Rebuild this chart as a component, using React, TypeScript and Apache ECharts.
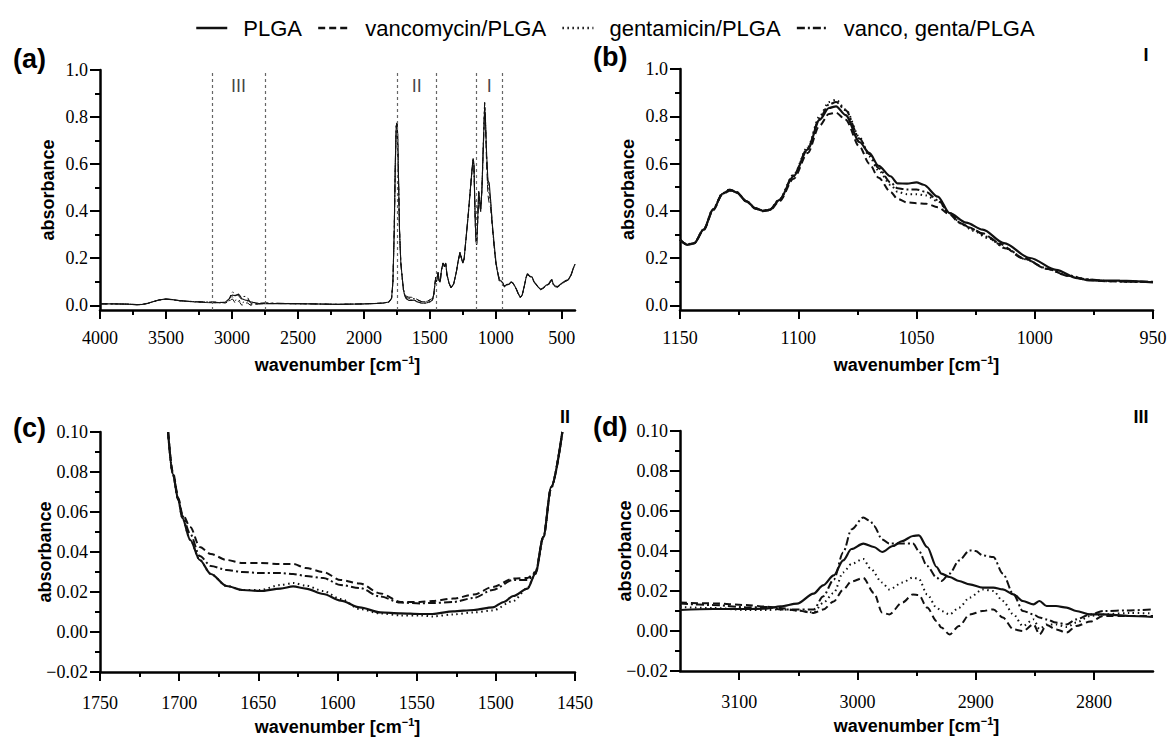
import React, { useEffect, useRef } from "react";
import * as echarts from "echarts";

const SERIES_NAMES = ["PLGA", "vancomycin/PLGA", "gentamicin/PLGA", "vanco, genta/PLGA"];

// ---------- (a) full spectrum, shared wavenumber grid ----------
const WAVE_A = [
  4000, 3900, 3800, 3720, 3680, 3640, 3600, 3550, 3500, 3450,
  3400, 3300, 3200, 3150, 3100, 3050, 3020, 3005, 2995, 2985,
  2975, 2960, 2950, 2940, 2925, 2910, 2895, 2880, 2860, 2840,
  2800, 2750, 2600, 2400, 2200, 2000, 1900, 1850, 1810, 1790,
  1780, 1770, 1762, 1755, 1750, 1745, 1738, 1730, 1720, 1710,
  1700, 1690, 1680, 1660, 1640, 1620, 1600, 1560, 1520, 1490,
  1480, 1470, 1462, 1455, 1450, 1444, 1438, 1430, 1422, 1412,
  1400, 1390, 1380, 1370, 1355, 1340, 1320, 1300, 1285, 1272,
  1260, 1250, 1240, 1225, 1210, 1195, 1180, 1172, 1166, 1160,
  1155, 1150, 1146, 1140, 1130, 1122, 1115, 1105, 1095, 1085,
  1080, 1070, 1060, 1050, 1040, 1025, 1010, 1000, 990, 975,
  960, 950, 935, 920, 900, 885, 870, 860, 845, 830,
  815, 800, 785, 770, 760, 745, 725, 710, 695, 680,
  660, 640, 620, 600, 585, 575, 565, 550, 530, 510,
  490, 470, 450, 430, 415, 400,
];
const PLGA_A = [
  0.006, 0.006, 0.005, 0.003, 0.004, 0.008, 0.015, 0.023, 0.027, 0.024,
  0.02, 0.015, 0.012, 0.011, 0.011, 0.0137, 0.028, 0.041, 0.0437, 0.042,
  0.041, 0.045, 0.0478, 0.041, 0.028, 0.0245, 0.0217, 0.021, 0.015, 0.0125,
  0.0083, 0.007, 0.007, 0.006, 0.004, 0.006, 0.008, 0.01, 0.014, 0.03,
  0.1, 0.32, 0.6, 0.76, 0.775, 0.74, 0.55, 0.32, 0.18, 0.12,
  0.065, 0.04, 0.029, 0.021, 0.021, 0.022, 0.0157, 0.009, 0.0105, 0.018,
  0.022, 0.047, 0.088, 0.12, 0.1, 0.12, 0.14, 0.105, 0.098, 0.15,
  0.18, 0.165, 0.18, 0.13, 0.095, 0.075, 0.09, 0.14, 0.19, 0.225,
  0.2, 0.18, 0.2, 0.29, 0.38, 0.48, 0.58, 0.625, 0.6, 0.45,
  0.34, 0.277, 0.256, 0.32, 0.485, 0.44, 0.4, 0.5, 0.68, 0.842,
  0.805, 0.645, 0.53, 0.52, 0.45, 0.335, 0.245, 0.19, 0.15, 0.105,
  0.104, 0.097, 0.08, 0.088, 0.09, 0.1, 0.095, 0.085, 0.07, 0.05,
  0.033, 0.045, 0.08, 0.12, 0.135, 0.125, 0.12, 0.1, 0.09, 0.078,
  0.068, 0.075, 0.085, 0.09, 0.105, 0.11, 0.09, 0.082, 0.08, 0.09,
  0.098, 0.105, 0.11, 0.13, 0.155, 0.175,
];
const VANCO_A = [
  0.006, 0.006, 0.005, 0.002, 0.003, 0.008, 0.015, 0.023, 0.026, 0.024,
  0.02, 0.016, 0.014, 0.0142, 0.0134, 0.0105, 0.0148, 0.0248, 0.0265, 0.018,
  0.0085, 0.0145, 0.018, 0.0117, 0.0, 0.005, 0.01, 0.0095, 0.0, 0.003,
  0.0047, 0.0075, 0.007, 0.006, 0.004, 0.006, 0.008, 0.01, 0.014, 0.03,
  0.1, 0.31, 0.59, 0.75, 0.77, 0.735, 0.55, 0.32, 0.18, 0.12,
  0.066, 0.05, 0.039, 0.0345, 0.034, 0.032, 0.026, 0.015, 0.017, 0.0267,
  0.027, 0.048, 0.088, 0.12, 0.1, 0.12, 0.14, 0.105, 0.098, 0.15,
  0.178, 0.163, 0.178, 0.128, 0.094, 0.074, 0.089, 0.138, 0.188, 0.222,
  0.198, 0.178, 0.198, 0.287, 0.377, 0.476, 0.575, 0.618, 0.594, 0.446,
  0.338, 0.277, 0.257, 0.318, 0.48, 0.44, 0.398, 0.49, 0.665, 0.815,
  0.785, 0.6, 0.47, 0.432, 0.415, 0.32, 0.23, 0.178, 0.15, 0.113,
  0.1, 0.098, 0.078, 0.085, 0.088, 0.098, 0.093, 0.083, 0.068, 0.048,
  0.032, 0.043, 0.078, 0.118, 0.132, 0.122, 0.117, 0.098, 0.088, 0.076,
  0.066, 0.072, 0.082, 0.087, 0.1, 0.105, 0.087, 0.079, 0.077, 0.087,
  0.095, 0.102, 0.107, 0.127, 0.152, 0.172,
];
const GENTA_A = [
  0.006, 0.006, 0.005, 0.003, 0.004, 0.008, 0.015, 0.022, 0.026, 0.023,
  0.019, 0.015, 0.012, 0.012, 0.0105, 0.0103, 0.019, 0.0335, 0.036, 0.029,
  0.021, 0.0245, 0.026, 0.018, 0.0095, 0.014, 0.0208, 0.018, 0.003, 0.0033,
  0.0075, 0.0088, 0.007, 0.006, 0.004, 0.006, 0.008, 0.01, 0.014, 0.03,
  0.1, 0.32, 0.6, 0.76, 0.775, 0.74, 0.55, 0.32, 0.18, 0.12,
  0.065, 0.04, 0.029, 0.021, 0.023, 0.024, 0.0165, 0.0083, 0.009, 0.0155,
  0.022, 0.047, 0.088, 0.12, 0.1, 0.12, 0.14, 0.105, 0.098, 0.15,
  0.18, 0.165, 0.18, 0.13, 0.095, 0.075, 0.09, 0.14, 0.19, 0.225,
  0.2, 0.18, 0.2, 0.29, 0.38, 0.48, 0.58, 0.625, 0.6, 0.45,
  0.34, 0.278, 0.258, 0.322, 0.487, 0.442, 0.402, 0.505, 0.69, 0.87,
  0.83, 0.63, 0.5, 0.47, 0.44, 0.33, 0.235, 0.18, 0.152, 0.115,
  0.101, 0.098, 0.079, 0.087, 0.089, 0.099, 0.094, 0.084, 0.069, 0.049,
  0.032, 0.044, 0.079, 0.119, 0.134, 0.124, 0.119, 0.099, 0.089, 0.077,
  0.067, 0.074, 0.084, 0.089, 0.104, 0.109, 0.089, 0.081, 0.079, 0.089,
  0.097, 0.104, 0.109, 0.129, 0.154, 0.174,
];
const VG_A = [
  0.006, 0.006, 0.005, 0.003, 0.004, 0.008, 0.015, 0.023, 0.027, 0.024,
  0.02, 0.016, 0.014, 0.0137, 0.0118, 0.0107, 0.0257, 0.0508, 0.0567, 0.0525,
  0.0437, 0.0437, 0.042, 0.0325, 0.026, 0.0375, 0.0378, 0.032, 0.01, 0.0058,
  0.0083, 0.0108, 0.008, 0.006, 0.004, 0.006, 0.008, 0.01, 0.014, 0.03,
  0.1, 0.32, 0.6, 0.76, 0.775, 0.74, 0.55, 0.32, 0.18, 0.12,
  0.066, 0.046, 0.033, 0.03, 0.0295, 0.028, 0.0235, 0.0147, 0.0155, 0.026,
  0.026, 0.047, 0.088, 0.12, 0.1, 0.12, 0.14, 0.105, 0.098, 0.15,
  0.179, 0.164, 0.179, 0.129, 0.095, 0.075, 0.09, 0.139, 0.189, 0.224,
  0.199, 0.179, 0.199, 0.289, 0.379, 0.479, 0.578, 0.62, 0.597, 0.448,
  0.34, 0.277, 0.257, 0.32, 0.483, 0.44, 0.4, 0.5, 0.68, 0.86,
  0.825, 0.64, 0.52, 0.49, 0.445, 0.33, 0.235, 0.18, 0.15, 0.113,
  0.1, 0.099, 0.079, 0.086, 0.089, 0.099, 0.094, 0.084, 0.069, 0.049,
  0.033, 0.044, 0.079, 0.119, 0.133, 0.123, 0.118, 0.099, 0.089, 0.077,
  0.067, 0.073, 0.083, 0.088, 0.102, 0.107, 0.088, 0.08, 0.078, 0.088,
  0.096, 0.103, 0.108, 0.128, 0.153, 0.173,
];
const REGION_BOUNDS = [3150, 2750, 1750, 1450, 1150, 950];
const REGION_CENTERS = [2950, 1600, 1050];
const REGION_NAMES = ["III", "II", "I"];
const REGION_LABEL_Y = 0.93;

// ---------- (b) region I ----------
const PLGA_B = [
  [1150, 0.277], [1147, 0.256], [1144, 0.262], [1140, 0.32], [1136, 0.405], [1132, 0.472],
  [1129, 0.489], [1126, 0.478], [1122, 0.44], [1118, 0.41], [1115, 0.4], [1112, 0.404],
  [1108, 0.445], [1102, 0.546], [1096, 0.66], [1091, 0.785], [1087, 0.835], [1084, 0.842],
  [1080, 0.805], [1074, 0.69], [1070, 0.645], [1066, 0.59], [1061, 0.546], [1058, 0.516],
  [1054, 0.515], [1050, 0.52], [1047, 0.51], [1041, 0.46], [1036, 0.39], [1029, 0.35],
  [1022, 0.32], [1013, 0.263], [1002, 0.2], [991, 0.15], [982, 0.115], [977, 0.105],
  [964, 0.104], [950, 0.097],
];
const VANCO_B = [
  [1150, 0.277], [1147, 0.257], [1144, 0.263], [1140, 0.318], [1136, 0.402], [1132, 0.47],
  [1129, 0.485], [1126, 0.476], [1122, 0.44], [1118, 0.408], [1115, 0.398], [1112, 0.402],
  [1108, 0.44], [1102, 0.535], [1096, 0.645], [1091, 0.76], [1087, 0.81], [1084, 0.815],
  [1080, 0.785], [1074, 0.67], [1070, 0.6], [1066, 0.54], [1061, 0.48], [1058, 0.45],
  [1054, 0.435], [1050, 0.432], [1046, 0.43], [1041, 0.415], [1036, 0.385], [1032, 0.35],
  [1028, 0.33], [1022, 0.305], [1015, 0.26], [1005, 0.2], [995, 0.155], [986, 0.125],
  [978, 0.108], [970, 0.102], [960, 0.1], [950, 0.098],
];
const GENTA_B = [
  [1150, 0.278], [1147, 0.258], [1144, 0.264], [1140, 0.322], [1136, 0.407], [1132, 0.474],
  [1129, 0.49], [1126, 0.479], [1122, 0.442], [1118, 0.411], [1115, 0.401], [1112, 0.406],
  [1108, 0.448], [1102, 0.552], [1096, 0.67], [1091, 0.8], [1087, 0.86], [1084, 0.87],
  [1080, 0.83], [1074, 0.71], [1070, 0.63], [1066, 0.57], [1061, 0.51], [1058, 0.48],
  [1054, 0.47], [1050, 0.47], [1046, 0.465], [1041, 0.44], [1036, 0.39], [1031, 0.345],
  [1026, 0.315], [1020, 0.285], [1012, 0.24], [1004, 0.195], [995, 0.157], [986, 0.127],
  [978, 0.11], [970, 0.102], [960, 0.1], [950, 0.098],
];
const VG_B = [
  [1150, 0.277], [1147, 0.257], [1144, 0.263], [1140, 0.321], [1136, 0.406], [1132, 0.473],
  [1129, 0.489], [1126, 0.478], [1122, 0.441], [1118, 0.41], [1115, 0.4], [1112, 0.405],
  [1108, 0.447], [1102, 0.55], [1096, 0.665], [1091, 0.79], [1087, 0.85], [1084, 0.86],
  [1080, 0.825], [1074, 0.705], [1070, 0.64], [1066, 0.58], [1061, 0.52], [1058, 0.495],
  [1054, 0.49], [1050, 0.49], [1046, 0.48], [1041, 0.445], [1036, 0.39], [1031, 0.345],
  [1026, 0.32], [1020, 0.29], [1012, 0.24], [1004, 0.195], [995, 0.155], [986, 0.125],
  [978, 0.11], [970, 0.103], [960, 0.1], [950, 0.1],
];

// ---------- (c) region II ----------
const PLGA_C = [
  [1707, 0.1], [1704, 0.079], [1700.5, 0.066], [1698, 0.057], [1693, 0.046], [1687, 0.036],
  [1680, 0.029], [1670, 0.023], [1660, 0.021], [1649, 0.0205], [1636, 0.0217], [1628, 0.0228],
  [1620, 0.0217], [1609, 0.019], [1598, 0.0157], [1586, 0.0123], [1573, 0.0098], [1560, 0.0093],
  [1548, 0.009], [1540, 0.009], [1527, 0.0103], [1514, 0.011], [1502, 0.0123], [1495, 0.015],
  [1489, 0.018], [1480, 0.0217], [1475, 0.0292], [1470, 0.0475], [1465, 0.0725], [1458, 0.1],
];
const VANCO_C = [
  [1707, 0.1], [1704, 0.08], [1700.5, 0.067], [1698, 0.059], [1693, 0.0525], [1687, 0.0425],
  [1680, 0.039], [1670, 0.036], [1660, 0.0345], [1649, 0.0345], [1636, 0.034], [1628, 0.034],
  [1620, 0.032], [1609, 0.03], [1598, 0.026], [1586, 0.0243], [1573, 0.0193], [1560, 0.015],
  [1548, 0.015], [1540, 0.0155], [1527, 0.0167], [1514, 0.0187], [1502, 0.0225], [1489, 0.0267],
  [1480, 0.027], [1475, 0.03], [1470, 0.0475], [1465, 0.0725], [1458, 0.1],
];
const GENTA_C = [
  [1707, 0.1], [1704, 0.079], [1700.5, 0.066], [1698, 0.057], [1693, 0.046], [1687, 0.036],
  [1680, 0.029], [1670, 0.023], [1660, 0.021], [1649, 0.021], [1636, 0.0235], [1628, 0.0245],
  [1620, 0.0232], [1609, 0.0205], [1598, 0.0165], [1586, 0.0115], [1573, 0.0093], [1560, 0.0083],
  [1548, 0.0083], [1540, 0.0078], [1527, 0.0088], [1514, 0.0098], [1502, 0.0108], [1489, 0.0155],
  [1480, 0.022], [1475, 0.029], [1470, 0.047], [1465, 0.072], [1458, 0.1],
];
const VG_C = [
  [1707, 0.1], [1704, 0.079], [1700.5, 0.066], [1698, 0.058], [1693, 0.049], [1687, 0.038],
  [1680, 0.033], [1670, 0.031], [1660, 0.03], [1649, 0.0295], [1636, 0.0295], [1628, 0.029],
  [1620, 0.028], [1609, 0.027], [1598, 0.0235], [1586, 0.022], [1573, 0.0177], [1560, 0.0147],
  [1548, 0.0143], [1540, 0.0145], [1527, 0.015], [1514, 0.017], [1502, 0.021], [1489, 0.026],
  [1480, 0.026], [1475, 0.0295], [1470, 0.0475], [1465, 0.0725], [1458, 0.1],
];

// ---------- (d) region III ----------
const PLGA_D = [
  [3150, 0.0105], [3122, 0.011], [3094, 0.011], [3077, 0.0112], [3065, 0.0123], [3051, 0.0137],
  [3037, 0.0187], [3029, 0.0228], [3020, 0.0278], [3012, 0.0353], [3005, 0.041], [2995, 0.0437],
  [2986, 0.042], [2979, 0.0395], [2970, 0.0425], [2962, 0.045], [2953, 0.0475], [2948, 0.0478],
  [2941, 0.042], [2933, 0.032], [2929, 0.0287], [2922, 0.027], [2914, 0.025], [2905, 0.0233],
  [2894, 0.0217], [2885, 0.0217], [2877, 0.0208], [2868, 0.0183], [2860, 0.015], [2851, 0.0133],
  [2846, 0.015], [2840, 0.0125], [2832, 0.0125], [2823, 0.0117], [2815, 0.01], [2803, 0.0083],
  [2792, 0.0083], [2770, 0.0075], [2750, 0.007],
];
const VANCO_D = [
  [3150, 0.0142], [3122, 0.0138], [3094, 0.013], [3077, 0.0122], [3065, 0.0115], [3051, 0.0103],
  [3037, 0.009], [3029, 0.0107], [3020, 0.0148], [3012, 0.0207], [3005, 0.0248], [2995, 0.0265],
  [2986, 0.019], [2979, 0.0092], [2973, 0.0083], [2962, 0.0142], [2953, 0.0183], [2948, 0.018],
  [2941, 0.0117], [2933, 0.005], [2929, 0.0017], [2922, -0.0017], [2914, 0.0025], [2905, 0.0083],
  [2894, 0.01], [2885, 0.0108], [2877, 0.0067], [2868, 0.0008], [2860, 0.0], [2851, 0.0033],
  [2846, -0.0017], [2840, 0.003], [2832, 0.0008], [2823, -0.0008], [2815, 0.0025], [2803, 0.0047],
  [2792, 0.0075], [2770, 0.0075], [2750, 0.0075],
];
const GENTA_D = [
  [3150, 0.012], [3122, 0.0115], [3094, 0.0105], [3077, 0.0105], [3065, 0.0108], [3051, 0.0103],
  [3037, 0.0093], [3029, 0.014], [3020, 0.019], [3012, 0.0293], [3005, 0.0335], [2995, 0.036],
  [2989, 0.0313], [2979, 0.0242], [2973, 0.0208], [2962, 0.0242], [2953, 0.0267], [2948, 0.026],
  [2941, 0.0183], [2933, 0.0117], [2929, 0.01], [2922, 0.0083], [2914, 0.0117], [2905, 0.0167],
  [2894, 0.0208], [2885, 0.02], [2877, 0.015], [2868, 0.0083], [2860, 0.0025], [2851, 0.0058],
  [2846, 0.001], [2840, 0.0033], [2832, 0.0033], [2823, 0.002], [2815, 0.0042], [2803, 0.0075],
  [2792, 0.0083], [2770, 0.009], [2750, 0.0088],
];
const VG_D = [
  [3150, 0.0137], [3122, 0.013], [3094, 0.0118], [3077, 0.012], [3065, 0.0108], [3051, 0.0107],
  [3037, 0.0107], [3029, 0.0173], [3020, 0.0257], [3012, 0.0393], [3005, 0.0508], [2995, 0.0567],
  [2989, 0.055], [2986, 0.0525], [2979, 0.0458], [2973, 0.0437], [2962, 0.0437], [2953, 0.0437],
  [2948, 0.04], [2941, 0.0325], [2933, 0.0267], [2929, 0.025], [2922, 0.0287], [2914, 0.0353],
  [2905, 0.0403], [2900, 0.04], [2894, 0.0378], [2885, 0.037], [2877, 0.0287], [2868, 0.0183],
  [2860, 0.01], [2851, 0.0083], [2846, 0.0067], [2840, 0.0058], [2832, 0.0042], [2823, 0.0033],
  [2815, 0.0058], [2803, 0.0083], [2792, 0.01], [2770, 0.0103], [2750, 0.0108],
];

// ---------- tick values ----------
const A_X_MAJOR = [500, 1000, 1500, 2000, 2500, 3000, 3500, 4000];
const A_X_MINOR = [750, 1250, 1750, 2250, 2750, 3250, 3750];
const AB_Y_MAJOR = [0, 0.2, 0.4, 0.6, 0.8, 1.0];
const AB_Y_MINOR = [0.1, 0.3, 0.5, 0.7, 0.9];
const D_X_MAJOR = [2800, 2900, 3000, 3100];
const D_X_MINOR = [2850, 2950, 3050];

// ---------- styles ----------
const SERIF = "Liberation Serif, Times New Roman, serif";
const SANS = "Liberation Sans, Arial, sans-serif";
const INK = "#111";
const LINE_TYPES: any[] = ["solid", [7, 4], [1.5, 3.5], [8, 3, 2, 3]];

const fmt0 = (v: number) => String(Math.round(v));
const fmt1 = (v: number) => v.toFixed(1);
const fmt2 = (v: number) => (v < -1e-9 ? "\u2212" : "") + Math.abs(v).toFixed(2);

const AXIS_LINE = { show: true, onZero: false, lineStyle: { color: "#000", width: 2.5 } };
const TICK_STYLE = { color: "#000", width: 2 };
const LABEL_BASE = { color: "#000", fontFamily: SERIF, fontSize: 18 };
const X_NAME = "wavenumber [cm{sup|\u22121}]";
const X_NAME_STYLE = {
  fontFamily: SANS, fontWeight: "bold", fontSize: 18, color: "#000", lineHeight: 22,
  rich: { sup: { fontFamily: SANS, fontWeight: "bold", fontSize: 11, color: "#000", verticalAlign: "top", lineHeight: 22 } },
};
const Y_NAME_STYLE = { fontFamily: SANS, fontWeight: "bold", fontSize: 18, color: "#000" };

function majorX(grid: number, min: number, max: number, opts: any) {
  return {
    type: "value", gridIndex: grid, position: "bottom", min, max, inverse: true,
    splitLine: { show: false }, axisLine: AXIS_LINE,
    axisTick: { show: true, length: 9, lineStyle: TICK_STYLE, ...(opts.tick || {}) },
    minorTick: opts.minor ? { show: true, splitNumber: 2, length: 5, lineStyle: TICK_STYLE } : { show: false },
    axisLabel: { ...LABEL_BASE, margin: opts.margin, formatter: fmt0, showMinLabel: true, showMaxLabel: true, ...(opts.label || {}) },
    interval: opts.interval,
    name: X_NAME, nameLocation: "middle", nameGap: 44, nameMoveOverlap: false, nameTextStyle: X_NAME_STYLE,
  };
}
function minorX(grid: number, min: number, max: number, values: number[]) {
  return {
    type: "value", gridIndex: grid, position: "bottom", min, max, inverse: true,
    splitLine: { show: false }, axisLine: { show: false, onZero: false },
    axisTick: { show: true, length: 5, lineStyle: TICK_STYLE, customValues: values },
    axisLabel: { show: false },
  };
}
function majorY(grid: number, min: number, max: number, opts: any) {
  return {
    type: "value", gridIndex: grid, position: "left", min, max,
    splitLine: { show: false }, axisLine: AXIS_LINE,
    axisTick: { show: true, length: 10, lineStyle: TICK_STYLE, ...(opts.tick || {}) },
    minorTick: opts.minor ? { show: true, splitNumber: 2, length: 5, lineStyle: TICK_STYLE } : { show: false },
    axisLabel: { ...LABEL_BASE, margin: 12, showMinLabel: true, showMaxLabel: true, ...(opts.label || {}) },
    interval: opts.interval,
    name: "absorbance", nameLocation: "middle", nameRotate: 90, nameGap: opts.nameGap, nameMoveOverlap: false,
    nameTextStyle: Y_NAME_STYLE,
  };
}
function minorY(grid: number, min: number, max: number, values: number[]) {
  return {
    type: "value", gridIndex: grid, position: "left", min, max,
    splitLine: { show: false }, axisLine: { show: false, onZero: false },
    axisTick: { show: true, length: 5, lineStyle: TICK_STYLE, customValues: values },
    axisLabel: { show: false },
  };
}

function line(name: string, data: any[], xi: number, yi: number, width: number, k: number, smooth: any, extra: any = {}) {
  return {
    type: "line", name, data, xAxisIndex: xi, yAxisIndex: yi,
    symbol: "none", showSymbol: false, smooth, smoothMonotone: "x", silent: true,
    itemStyle: { color: INK, opacity: 0 },
    lineStyle: { color: INK, width, type: LINE_TYPES[k] },
    z: k === 0 ? 4 : 3,
    ...extra,
  };
}

function buildOption() {
  const zipA = (vals: number[]) => WAVE_A.map((w, i) => [w, vals[i]]);
  const seriesA = [VANCO_A, GENTA_A, VG_A].map((v, i) => line(SERIES_NAMES[i + 1], zipA(v), 0, 0, 1, i + 1, false));
  seriesA.push(
    line(SERIES_NAMES[0], zipA(PLGA_A), 0, 0, 1.1, 0, false, {
      markLine: {
        silent: true, symbol: ["none", "none"], label: { show: false }, animation: false,
        lineStyle: { color: "#666", type: [3, 3], width: 1.2 },
        data: REGION_BOUNDS.map((v) => ({ xAxis: v })),
      },
    })
  );
  const panel = (sets: any[][], xi: number, yi: number) => {
    const out = [1, 2, 3].map((k) => line(SERIES_NAMES[k], sets[k], xi, yi, 2, k, 0.3));
    out.push(line(SERIES_NAMES[0], sets[0], xi, yi, 2.2, 0, 0.3));
    return out;
  };
  const seriesB = panel([PLGA_B, VANCO_B, GENTA_B, VG_B], 2, 2);
  const seriesC = panel([PLGA_C, VANCO_C, GENTA_C, VG_C], 3, 4);
  const seriesD = panel([PLGA_D, VANCO_D, GENTA_D, VG_D], 4, 5);

  const regionLabels = {
    type: "scatter", name: "regions", xAxisIndex: 0, yAxisIndex: 0, symbolSize: 1, silent: true,
    itemStyle: { color: "rgba(0,0,0,0)" },
    label: {
      show: true, position: "inside", formatter: "{b}", fontFamily: SANS, fontSize: 18,
      color: INK, textBorderWidth: 0,
    },
    data: REGION_NAMES.map((n, i) => ({ name: n, value: [REGION_CENTERS[i], REGION_LABEL_Y] })),
  };

  const gridBase = { containLabel: false, outerBoundsMode: "none" };
  const txt = (text: string, x: number, y: number, size: number, weight: string, align = "left") => ({
    type: "text", x, y, silent: true,
    style: { text, fontSize: size, fontWeight: weight, fontFamily: SANS, fill: "#000", align, verticalAlign: "middle" },
  });

  return {
    animation: false,
    backgroundColor: "#fff",
    legend: {
      data: SERIES_NAMES, left: 190, top: 12, itemWidth: 31, itemHeight: 14, itemGap: 15,
      selectedMode: false,
      textStyle: { fontFamily: SANS, fontSize: 22, color: "#000", padding: [0, 0, 0, 11] },
      lineStyle: { width: 2.5 },
    },
    grid: [
      { ...gridBase, left: 100, top: 70, width: 475, height: 240 },
      { ...gridBase, left: 680, top: 69, width: 473, height: 241 },
      { ...gridBase, left: 100, top: 432, width: 475, height: 240 },
      { ...gridBase, left: 680, top: 431, width: 473, height: 240 },
    ],
    xAxis: [
      majorX(0, 400, 4000, { margin: 19, tick: { customValues: A_X_MAJOR }, label: { customValues: A_X_MAJOR } }),
      minorX(0, 400, 4000, A_X_MINOR),
      majorX(1, 950, 1150, { margin: 19, interval: 50, minor: true }),
      majorX(2, 1450, 1750, { margin: 22, interval: 50, minor: true }),
      majorX(3, 2750, 3150, { margin: 22, tick: { customValues: D_X_MAJOR }, label: { customValues: D_X_MAJOR } }),
      minorX(3, 2750, 3150, D_X_MINOR),
    ],
    yAxis: [
      majorY(0, -0.02, 1, { nameGap: 43, tick: { customValues: AB_Y_MAJOR }, label: { customValues: AB_Y_MAJOR, formatter: fmt1 } }),
      minorY(0, -0.02, 1, AB_Y_MINOR),
      majorY(1, -0.02, 1, { nameGap: 43, tick: { customValues: AB_Y_MAJOR }, label: { customValues: AB_Y_MAJOR, formatter: fmt1 } }),
      minorY(1, -0.02, 1, AB_Y_MINOR),
      majorY(2, -0.02, 0.1, { nameGap: 46, interval: 0.02, minor: true, label: { formatter: fmt2 } }),
      majorY(3, -0.02, 0.1, { nameGap: 46, interval: 0.02, minor: true, label: { formatter: fmt2 } }),
    ],
    series: [...seriesB, ...seriesC, ...seriesD, ...seriesA, regionLabels],
    graphic: [
      txt("(a)", 13, 59, 27, "bold"),
      txt("(b)", 593, 57, 27, "bold"),
      txt("(c)", 13, 428, 27, "bold"),
      txt("(d)", 593, 427, 27, "bold"),
      txt("I", 1146, 55, 18, "bold", "center"),
      txt("II", 565, 417, 18, "bold", "center"),
      txt("III", 1141, 417, 18, "bold", "center"),
    ],
  };
}

export default function App() {
  const ref = useRef<HTMLDivElement>(null);
  useEffect(() => {
    if (!ref.current) return;
    const chart = echarts.init(ref.current, undefined, { renderer: "svg" });
    chart.setOption(buildOption() as any);
    return () => chart.dispose();
  }, []);
  return (
    <div
      ref={ref}
      style={{ position: "fixed", left: 0, top: 0, width: 1167, height: 737, background: "#fff" }}
    />
  );
}
